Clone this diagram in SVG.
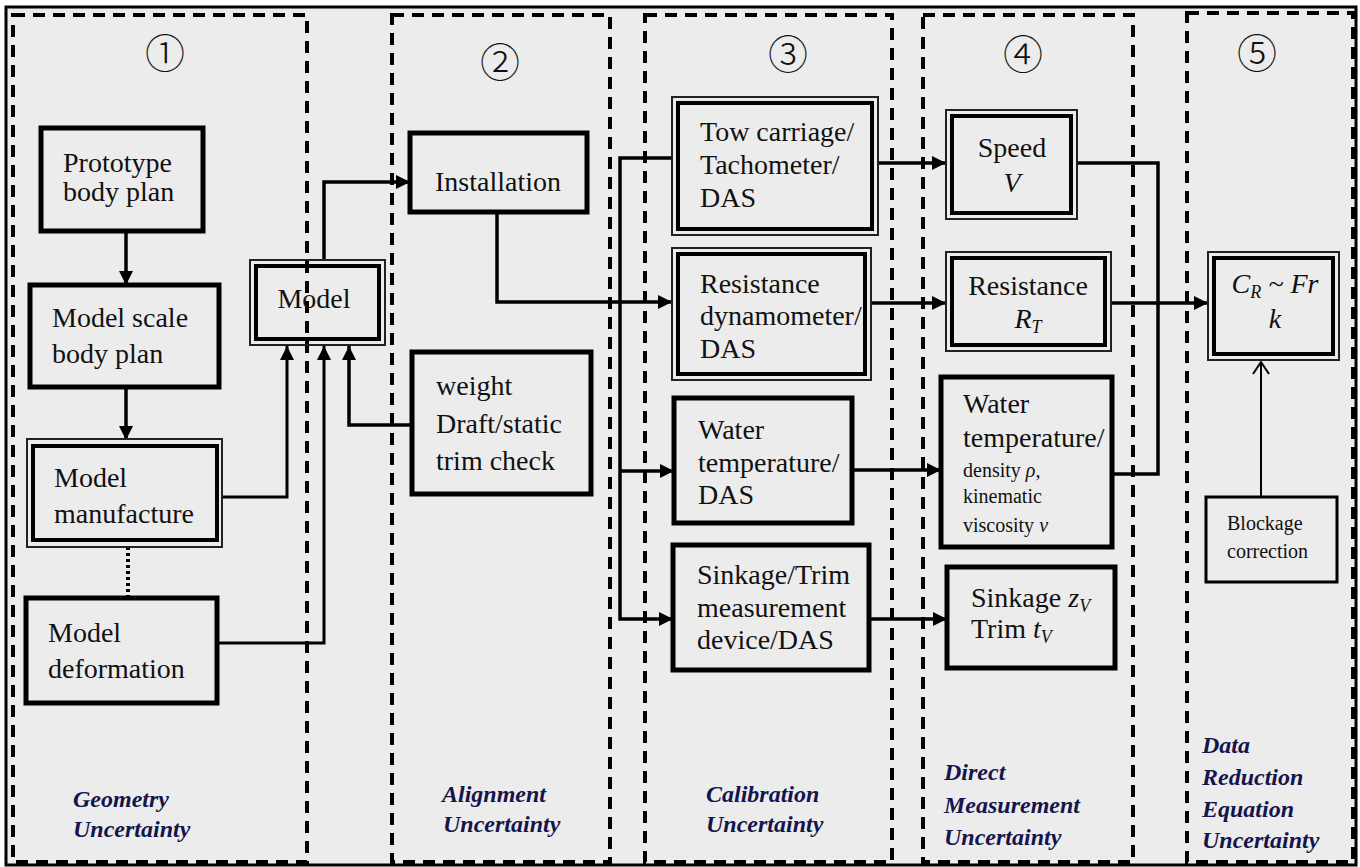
<svg xmlns="http://www.w3.org/2000/svg" width="1360" height="867" viewBox="0 0 1360 867">
<style>
.t{font-family:"Liberation Serif","Times New Roman",serif;font-size:28px;fill:#111}
.s{font-family:"Liberation Serif","Times New Roman",serif;font-size:20px;fill:#111}
.i{font-style:italic}
.lab{font-family:"Liberation Serif","Times New Roman",serif;font-size:24px;font-weight:bold;font-style:italic;fill:#15154d}
.num{font-family:"Noto Sans CJK JP","DejaVu Sans",sans-serif;font-size:40px;fill:#111;font-weight:300}
.zone{fill:none;stroke:#000;stroke-width:4;stroke-dasharray:12 8}
.box{fill:none;stroke:#000;stroke-width:5}
.outer{fill:none;stroke:#222;stroke-width:2}
.inner{fill:none;stroke:#000;stroke-width:4}
.thin{fill:none;stroke:#000;stroke-width:3}
.c{fill:none;stroke:#000;stroke-width:3.5}
.ca{fill:none;stroke:#000;stroke-width:3.5;marker-end:url(#ah)}
</style>
<defs>
<marker id="ah" markerUnits="userSpaceOnUse" markerWidth="16" markerHeight="16" refX="14" refY="7" orient="auto">
<path d="M0,0 L14,7 L0,14 Z" fill="#000"/>
</marker>
<marker id="oh" markerUnits="userSpaceOnUse" markerWidth="16" markerHeight="20" refX="13" refY="9" orient="auto">
<path d="M1,1 L13,9 L1,17" fill="none" stroke="#000" stroke-width="2"/>
</marker>
</defs>
<rect x="0" y="0" width="1360" height="867" fill="#fff"/>
<rect x="6" y="7" width="1350" height="858" fill="#ececec" stroke="#000" stroke-width="3"/>

<g id="zones">
<rect class="zone" x="13" y="15" width="294" height="847"/>
<rect class="zone" x="392" y="15" width="218" height="847"/>
<rect class="zone" x="645" y="15" width="247" height="847"/>
<rect class="zone" x="923" y="15" width="210" height="847"/>
<rect class="zone" x="1187" y="13" width="166" height="849"/>
<text class="num" x="165" y="68" text-anchor="middle">①</text>
<text class="num" x="500" y="77" text-anchor="middle">②</text>
<text class="num" x="788" y="69" text-anchor="middle">③</text>
<text class="num" x="1023" y="69" text-anchor="middle">④</text>
<text class="num" x="1257" y="68" text-anchor="middle">⑤</text>
<text class="lab" x="73" y="807">Geometry</text>
<text class="lab" x="73" y="837">Uncertainty</text>
<text class="lab" x="442" y="802">Alignment</text>
<text class="lab" x="443" y="832">Uncertainty</text>
<text class="lab" x="706" y="802">Calibration</text>
<text class="lab" x="706" y="832">Uncertainty</text>
<text class="lab" x="944" y="780">Direct</text>
<text class="lab" x="944" y="813">Measurement</text>
<text class="lab" x="944" y="845">Uncertainty</text>
<text class="lab" x="1202" y="753">Data</text>
<text class="lab" x="1202" y="785">Reduction</text>
<text class="lab" x="1202" y="817">Equation</text>
<text class="lab" x="1202" y="848">Uncertainty</text>
</g>

<g id="connectors">
<path class="ca" d="M126,231 V285"/>
<path class="ca" d="M126,387 V440"/>
<path d="M128,547 V598" fill="none" stroke="#000" stroke-width="4" stroke-dasharray="3 3"/>
<path class="ca" d="M222,497 H287 V346" style="stroke-width:3"/>
<path class="ca" d="M217,643 H324 V346" style="stroke-width:3"/>
<path class="ca" d="M412,425 H349 V346"/>
<path class="ca" d="M324,260 V182 H410"/>
<path class="ca" d="M497,212 V302 H672"/>
<path class="ca" d="M672,158 H620 V619 H673"/>
<path class="ca" d="M620,471 H674"/>
<path class="ca" d="M878,163 H946"/>
<path class="c" d="M1077,163 H1158 V474 H1113"/>
<path class="ca" d="M871,303 H946"/>
<path class="ca" d="M1111,303 H1208"/>
<path class="ca" d="M852,470 H941"/>
<path class="ca" d="M869,619 H947"/>
<path d="M1261,497 V362" fill="none" stroke="#000" stroke-width="2" marker-end="url(#oh)"/>
</g>

<g id="prototype">
<rect class="box" x="41" y="128" width="162" height="103"/>
<text class="t" x="63" y="172">Prototype</text>
<text class="t" x="63" y="201">body plan</text>
</g>
<g id="modelscale">
<rect class="box" x="30" y="285" width="189" height="102"/>
<text class="t" x="52" y="327">Model scale</text>
<text class="t" x="52" y="363">body plan</text>
</g>
<g id="manufacture">
<rect class="outer" x="27" y="439" width="195" height="108"/>
<rect class="inner" x="33" y="446" width="184" height="94"/>
<text class="t" x="54" y="487">Model</text>
<text class="t" x="54" y="523">manufacture</text>
</g>
<g id="deformation">
<rect class="box" x="26" y="598" width="191" height="105"/>
<text class="t" x="48" y="642">Model</text>
<text class="t" x="48" y="678">deformation</text>
</g>
<g id="model">
<rect class="outer" x="250" y="260" width="135" height="85"/>
<rect class="inner" x="256" y="266" width="123" height="73"/>
<text class="t" x="314" y="308" text-anchor="middle">Model</text>
</g>
<g id="installation">
<rect class="box" x="410" y="133" width="177" height="79"/>
<text class="t" x="498" y="191" text-anchor="middle">Installation</text>
</g>
<g id="weight">
<rect class="box" x="412" y="352" width="179" height="142"/>
<text class="t" x="436" y="395">weight</text>
<text class="t" x="436" y="433">Draft/static</text>
<text class="t" x="436" y="470">trim check</text>
</g>
<g id="towcarriage">
<rect class="outer" x="672" y="97" width="206" height="138"/>
<rect class="inner" x="678" y="103" width="194" height="126"/>
<text class="t" x="700" y="141">Tow carriage/</text>
<text class="t" x="700" y="174">Tachometer/</text>
<text class="t" x="700" y="207">DAS</text>
</g>
<g id="resdyn">
<rect class="outer" x="672" y="248" width="199" height="132"/>
<rect class="inner" x="678" y="254" width="187" height="120"/>
<text class="t" x="700" y="293">Resistance</text>
<text class="t" x="700" y="325">dynamometer/</text>
<text class="t" x="700" y="358">DAS</text>
</g>
<g id="waterdas">
<rect class="box" x="674" y="398" width="178" height="125"/>
<text class="t" x="698" y="439">Water</text>
<text class="t" x="698" y="472">temperature/</text>
<text class="t" x="698" y="504">DAS</text>
</g>
<g id="sinkagedev">
<rect class="box" x="673" y="545" width="196" height="125"/>
<text class="t" x="697" y="584">Sinkage/Trim</text>
<text class="t" x="697" y="617">measurement</text>
<text class="t" x="697" y="649">device/DAS</text>
</g>
<g id="speed">
<rect class="outer" x="946" y="110" width="131" height="109"/>
<rect class="inner" x="952" y="116" width="119" height="97"/>
<text class="t" x="1012" y="157" text-anchor="middle">Speed</text>
<text class="t i" x="1012" y="192" text-anchor="middle">V</text>
</g>
<g id="resistance">
<rect class="outer" x="946" y="252" width="165" height="99"/>
<rect class="inner" x="952" y="258" width="153" height="87"/>
<text class="t" x="1028" y="295" text-anchor="middle">Resistance</text>
<text class="t i" x="1028" y="328" text-anchor="middle">R<tspan font-size="18" dy="5">T</tspan></text>
</g>
<g id="watertemp">
<rect class="box" x="941" y="377" width="171" height="170"/>
<text class="t" x="963" y="413">Water</text>
<text class="t" x="963" y="447">temperature/</text>
<text class="s" x="963" y="477">density <tspan class="i">ρ</tspan>,</text>
<text class="s" x="963" y="503">kinematic</text>
<text class="s" x="963" y="532">viscosity <tspan class="i">ν</tspan></text>
</g>
<g id="sinkage">
<rect class="box" x="947" y="567" width="168" height="101"/>
<text class="t" x="971" y="607">Sinkage <tspan class="i">z</tspan><tspan class="i" font-size="18" dy="5">V</tspan></text>
<text class="t" x="971" y="638">Trim <tspan class="i">t</tspan><tspan class="i" font-size="18" dy="5">V</tspan></text>
</g>
<g id="cr">
<rect class="outer" x="1208" y="252" width="131" height="108"/>
<rect class="inner" x="1214" y="258" width="119" height="96"/>
<text class="t i" x="1275" y="293" text-anchor="middle">C<tspan font-size="18" dy="5">R</tspan><tspan dy="-5"> ~ Fr</tspan></text>
<text class="t i" x="1275" y="328" text-anchor="middle">k</text>
</g>
<g id="blockage">
<rect class="thin" x="1206" y="497" width="131" height="85"/>
<text class="s" x="1227" y="530">Blockage</text>
<text class="s" x="1227" y="558">correction</text>
</g>
</svg>
